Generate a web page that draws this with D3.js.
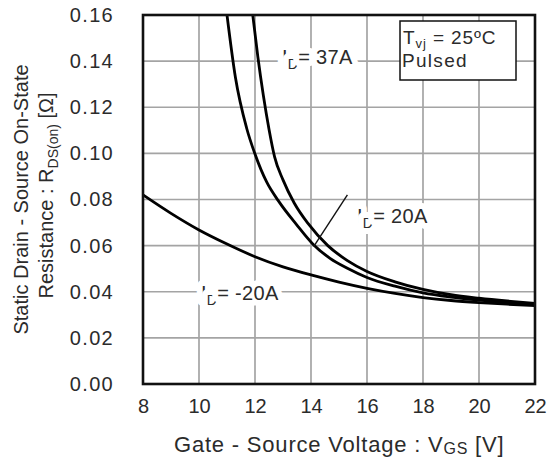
<!DOCTYPE html>
<html>
<head>
<meta charset="utf-8">
<script src="https://cdn.jsdelivr.net/npm/d3@7"></script>
<style>
  body { margin: 0; background: #fff; }
  text { font-family: "Liberation Sans", Arial, sans-serif; fill: #2b2b2b; }
</style>
</head>
<body>
<div id="chart"></div>
<script>
// Axis ticks
var xTicks = [8, 10, 12, 14, 16, 18, 20, 22]
var yTicks = [0.00, 0.02, 0.04, 0.06, 0.08, 0.10, 0.12, 0.14, 0.16]

// I_D = 37A
var vgs37 = [11.92, 12.1, 12.3, 12.5, 12.7, 13.0, 13.4, 13.9, 14.6, 15.3, 16, 17, 18, 19, 20, 21, 22]
var r37 = [0.160, 0.142, 0.125, 0.1105, 0.0985, 0.0885, 0.0785, 0.0695, 0.0600, 0.0535, 0.0488, 0.0443, 0.0410, 0.0387, 0.0372, 0.0360, 0.0350]

// I_D = 20A
var vgs20 = [11.0, 11.3, 11.7, 12.0, 12.42, 12.83, 13.49, 14.08, 14.68, 15.3, 16, 17, 18, 19, 20, 21, 22]
var r20 = [0.160, 0.133, 0.111, 0.0997, 0.0875, 0.0795, 0.0690, 0.0605, 0.0545, 0.0502, 0.0462, 0.0424, 0.0395, 0.0377, 0.0364, 0.0353, 0.0343]

// I_D = -20A
var vgsN20 = [8, 9, 10, 11, 12, 13, 14, 15, 16, 17, 18, 19, 20, 21, 22]
var rN20 = [0.082, 0.0740, 0.0668, 0.0607, 0.0552, 0.0508, 0.0473, 0.0442, 0.0415, 0.0393, 0.0375, 0.0362, 0.0353, 0.0346, 0.0340]

var plot = { left: 143, right: 535, top: 15, bottom: 384 }

var svg = d3.select("#chart")
    .append("svg")
    .attr("width", 548)
    .attr("height", 462)

var x = d3.scaleLinear().domain([8, 22]).range([plot.left, plot.right])
var y = d3.scaleLinear().domain([0, 0.16]).range([plot.bottom, plot.top])

// ----------------- //
// Tick labels
// ----------------- //
var xAx = svg.append("g")
    .attr("transform", "translate(0," + plot.bottom + ")")
    .call(d3.axisBottom(x).tickValues(xTicks).tickSize(0).tickPadding(15).tickFormat(d3.format("d")))
xAx.select(".domain").remove()
xAx.selectAll("text").attr("font-size", "20px").attr("fill", "#2b2b2b").attr("font-family", null)

var yAx = svg.append("g")
    .attr("transform", "translate(" + plot.left + ",0)")
    .call(d3.axisLeft(y).tickValues(yTicks).tickSize(0).tickPadding(29).tickFormat(d3.format(".2f")))
yAx.select(".domain").remove()
yAx.selectAll("text").attr("font-size", "20px").attr("fill", "#2b2b2b").attr("font-family", null)
    .style("letter-spacing", "1.3px")

// ----------------- //
// Grid (drawn after the axis groups)
// ----------------- //
var grid = svg.append("g")
xTicks.slice(1, -1).forEach(function(d) {
    grid.append("line").attr("x1", x(d)).attr("x2", x(d)).attr("y1", plot.top).attr("y2", plot.bottom)
        .attr("stroke", "#a4a4a4").attr("stroke-width", 1.7)
})
yTicks.slice(1, -1).forEach(function(d) {
    grid.append("line").attr("x1", plot.left).attr("x2", plot.right).attr("y1", y(d)).attr("y2", y(d))
        .attr("stroke", "#a4a4a4").attr("stroke-width", 1.7)
})

// ----------------- //
// Curves
// ----------------- //
var curve = d3.line()
    .x(function(d) { return x(d[0]) })
    .y(function(d) { return y(d[1]) })
    .curve(d3.curveMonotoneX)

var series = [[vgs37, r37], [vgs20, r20], [vgsN20, rN20]]
series.forEach(function(s) {
    svg.append("path")
        .datum(d3.zip(s[0], s[1]))
        .attr("d", curve)
        .attr("fill", "none")
        .attr("stroke", "#000")
        .attr("stroke-width", 2.8)
})

// ----------------- //
// Frame
// ----------------- //
svg.append("rect")
    .attr("x", plot.left).attr("y", plot.top)
    .attr("width", plot.right - plot.left).attr("height", plot.bottom - plot.top)
    .attr("fill", "none").attr("stroke", "#111").attr("stroke-width", 2.6)

// ----------------- //
// Curve labels, white halo cuts the grid
// ----------------- //
function idLabel(px, py, val) {
    var t = svg.append("text").attr("x", px).attr("y", py).attr("font-size", "20px")
        .style("letter-spacing", "0.3px")
        .attr("stroke", "#fff").attr("stroke-width", 12)
        .attr("stroke-linejoin", "round")
        .style("paint-order", "stroke")
    t.append("tspan").text("I")
    t.append("tspan").attr("font-size", "14px").attr("dy", 5).text("D")
    t.append("tspan").attr("dy", -5).text("= " + val)
}
idLabel(282, 64, "37A")
idLabel(357, 223, "20A")
idLabel(201, 300, "-20A")

// leader line for the 20A label
svg.append("line")
    .attr("x1", x(15.3)).attr("y1", y(0.0820))
    .attr("x2", x(14.1)).attr("y2", y(0.0597))
    .attr("stroke", "#111").attr("stroke-width", 1.4)

// condition box
svg.append("rect")
    .attr("x", 400).attr("y", 21).attr("width", 116).attr("height", 59)
    .attr("fill", "#fff").attr("stroke", "#111").attr("stroke-width", 1.5)
var t1 = svg.append("text").attr("x", 403).attr("y", 44).attr("font-size", "19px")
    .style("letter-spacing", "0.9px")
t1.append("tspan").text("T")
t1.append("tspan").attr("font-size", "13px").attr("dy", 4).text("vj")
t1.append("tspan").attr("dy", -4).text(" = 25ºC")
svg.append("text").attr("x", 402).attr("y", 67).attr("font-size", "19px")
    .style("letter-spacing", "1.3px").text("Pulsed")

// ----------------- //
// Axis titles
// ----------------- //
var xt = svg.append("text")
    .attr("x", 174).attr("y", 452)
    .attr("font-size", "22px")
    .style("letter-spacing", "0.8px")
xt.append("tspan").text("Gate - Source Voltage : V")
xt.append("tspan").attr("font-size", "16px").attr("dy", 2).text("GS")
xt.append("tspan").attr("dy", -2).text(" [V]")

var cy = (plot.top + plot.bottom) / 2
svg.append("text")
    .attr("transform", "translate(28," + cy + ") rotate(-90)")
    .attr("text-anchor", "middle")
    .attr("font-size", "20px")
    .text("Static Drain - Source On-State")

var yt = svg.append("text")
    .attr("transform", "translate(53," + (cy - 4) + ") rotate(-90)")
    .attr("text-anchor", "middle")
    .attr("font-size", "20px")
yt.append("tspan").text("Resistance : R")
yt.append("tspan").attr("font-size", "14px").attr("dy", 5).text("DS(on)")
yt.append("tspan").attr("dy", -5).text(" [Ω]")
</script>
</body>
</html>
